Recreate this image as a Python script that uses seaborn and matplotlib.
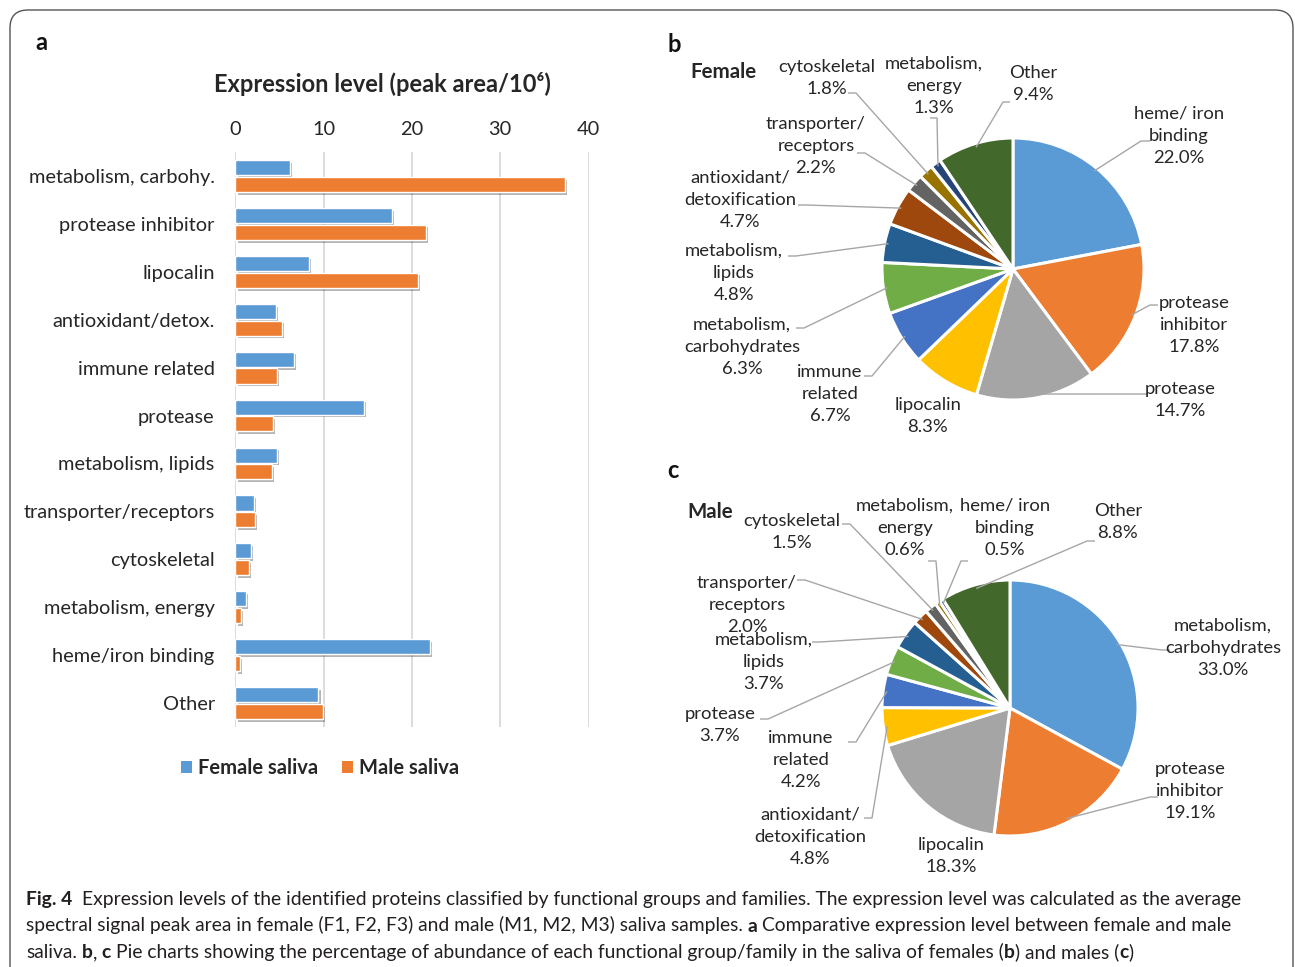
import numpy as np
import pandas as pd
import seaborn as sns
import matplotlib
matplotlib.use("Agg")
import matplotlib.pyplot as plt
from matplotlib.patches import FancyBboxPatch, Patch
import matplotlib.patheffects as pe

# ---------------- data ----------------
categories = ["metabolism, carbohy.", "protease inhibitor", "lipocalin", "antioxidant/detox.",
              "immune related", "protease", "metabolism, lipids", "transporter/receptors",
              "cytoskeletal", "metabolism, energy", "heme/iron binding", "Other"]
female_level = [6.2, 17.7, 8.3, 4.6, 6.6, 14.6, 4.7, 2.1, 1.7, 1.2, 22.0, 9.4]
male_level = [37.3, 21.6, 20.7, 5.3, 4.7, 4.2, 4.1, 2.2, 1.5, 0.6, 0.5, 9.9]
series_names = ["Female saliva", "Male saliva"]
x_ticks = [0, 10, 20, 30, 40]

female_groups = ["heme/ iron\nbinding", "protease\ninhibitor", "protease", "lipocalin",
                 "immune\nrelated", "metabolism,\ncarbohydrates", "metabolism,\nlipids",
                 "antioxidant/\ndetoxification", "transporter/\nreceptors", "cytoskeletal",
                 "metabolism,\nenergy", "Other"]
female_pct = [22.0, 17.8, 14.7, 8.3, 6.7, 6.3, 4.8, 4.7, 2.2, 1.8, 1.3, 9.4]

male_groups = ["metabolism,\ncarbohydrates", "protease\ninhibitor", "lipocalin",
               "antioxidant/\ndetoxification", "immune\nrelated", "protease",
               "metabolism,\nlipids", "transporter/\nreceptors", "cytoskeletal",
               "metabolism,\nenergy", "heme/ iron\nbinding", "Other"]
male_pct = [33.0, 19.1, 18.3, 4.8, 4.2, 3.7, 3.7, 2.0, 1.5, 0.6, 0.5, 8.8]

# ---------------- style ----------------
W, H = 1295, 967
sns.set_theme(style="white")
plt.rcParams["font.family"] = ["Lato", "DejaVu Sans"]
TXT = "#262626"
BAR_COLORS = ["#5B9BD5", "#ED7D31"]
SLICE_COLORS = ["#5B9BD5", "#ED7D31", "#A5A5A5", "#FFC000", "#4472C4", "#70AD47",
                "#255E91", "#9E480E", "#636363", "#997300", "#264478", "#43682B"]
LEADER = "#A6A6A6"

fig = plt.figure(figsize=(W / 100, H / 100), dpi=100)
fig.patch.set_facecolor("white")


def fx(x):
    return x / W


def fy(y):
    return 1 - y / H


# full-figure canvas in pixel units (y up) for pies, labels and frame
canvas = fig.add_axes([0, 0, 1, 1])
canvas.set_facecolor("none")

frame = FancyBboxPatch((10, -40), 1283, H - 10 + 40,
                       boxstyle="round,pad=0,rounding_size=18",
                       fc="none", ec="#555555", lw=1.0)
canvas.add_patch(frame)

# ---------------- panel a: bar chart ----------------
df = pd.DataFrame({
    "category": categories * 2,
    "sample": [series_names[0]] * len(categories) + [series_names[1]] * len(categories),
    "level": female_level + male_level,
})

ax = fig.add_axes([fx(235.5), fy(727), fx(588.5) - fx(235.5), fy(152) - fy(727)])
sns.barplot(data=df, y="category", x="level", hue="sample", order=categories,
            hue_order=series_names, palette=BAR_COLORS, orient="h", width=0.7,
            gap=0.1, saturation=1, ax=ax, errorbar=None)
ax.legend_.remove()
for p in ax.patches:
    p.set_path_effects([pe.SimplePatchShadow(offset=(1.5, -2.0), shadow_rgbFace="#444444", alpha=0.4),
                        pe.Normal()])
ax.set_xlim(0, 40)
ax.set_xticks(x_ticks)
ax.xaxis.tick_top()
ax.tick_params(axis="x", length=0, pad=10, labelsize=14.4, labelcolor=TXT)
ax.tick_params(axis="y", length=0, pad=15, labelsize=14.4, labelcolor=TXT)
ax.set_xlabel("")
ax.set_ylabel("")
ax.grid(axis="x", color="#D9D9D9", lw=1.3)
ax.set_axisbelow(True)
for s in ax.spines.values():
    s.set_visible(False)

fig.text(fx(382), fy(84), "Expression level (peak area/10⁶)", ha="center", va="center",
         fontsize=17, fontweight="bold", color=TXT)

handles = [Patch(facecolor=c, edgecolor="none") for c in BAR_COLORS]
fig.legend(handles, series_names, loc="center", bbox_to_anchor=(fx(320), fy(768)), ncol=2,
           frameon=False, handlelength=0.55, handleheight=0.55, handletextpad=0.3,
           columnspacing=1.2, prop={"weight": "bold", "size": 14.5})

# ---------------- panels b, c: pies ----------------
def draw_pie(center, radius, values, names, layout):
    cx, cy = center[0], H - center[1]
    wedges, _ = canvas.pie(values, colors=SLICE_COLORS, startangle=90, counterclock=False,
                           center=(cx, cy), radius=radius, frame=True,
                           wedgeprops=dict(edgecolor="white", linewidth=2.2))
    for w, name, val, (tx, ty, elbow) in zip(wedges, names, values, layout):
        canvas.text(tx, H - ty, f"{name}\n{val:.1f}%", ha="center", va="center",
                    fontsize=13.3, color=TXT, linespacing=1.47)
        if elbow is None:
            continue
        mid = np.deg2rad((w.theta1 + w.theta2) / 2)
        ax_pt = (cx + radius * 0.97 * np.cos(mid), cy + radius * 0.97 * np.sin(mid))
        xs = [e[0] for e in elbow] + [ax_pt[0]]
        ys = [H - e[1] for e in elbow] + [ax_pt[1]]
        canvas.plot(xs, ys, color=LEADER, lw=1.0, solid_capstyle="butt")


female_layout = [
    (1179, 136, [(1150, 141), (1141, 141)]),
    (1194, 325, [(1158, 305), (1150, 305)]),
    (1180, 400, [(1148, 394), (1140, 394)]),
    (928, 416, None),
    (830, 394, [(864, 376), (872, 376)]),
    (742, 347, [(796, 328), (804, 328)]),
    (734, 273, [(788, 256), (796, 256)]),
    (740, 200, [(798, 205), (806, 205)]),
    (816, 146, [(857, 153), (865, 153)]),
    (827, 78, [(848, 93), (856, 93)]),
    (934, 86, [(930, 118), (937, 118)]),
    (1033, 84, [(1010, 102), (1003, 102)]),
]
male_layout = [
    (1223, 648, [(1170, 650), (1162, 650)]),
    (1190, 791, [(1158, 797), (1150, 797)]),
    (951, 856, None),
    (810, 837, [(864, 818), (872, 818)]),
    (801, 760, [(848, 742), (856, 742)]),
    (720, 725, [(760, 719), (768, 719)]),
    (764, 662, [(812, 642), (820, 642)]),
    (747, 605, [(797, 580), (805, 580)]),
    (792, 532, [(842, 524), (850, 524)]),
    (905, 528, [(928, 561), (936, 561)]),
    (1005, 528, [(968, 561), (961, 561)]),
    (1118, 522, [(1095, 541), (1087, 541)]),
]

draw_pie((1013, 269), 131, female_pct, female_groups, female_layout)
draw_pie((1010, 708), 128, male_pct, male_groups, male_layout)

canvas.set_xlim(0, W)
canvas.set_ylim(0, H)
canvas.set_aspect("equal")
canvas.axis("off")

fig.text(fx(723), fy(72), "Female", ha="center", va="center", fontsize=14.8,
         fontweight="bold", color=TXT)
fig.text(fx(710), fy(512), "Male", ha="center", va="center", fontsize=14.8,
         fontweight="bold", color=TXT)

# panel letters
for letter, x, y in [("a", 41, 42), ("b", 674, 45), ("c", 673, 471)]:
    fig.text(fx(x), fy(y), letter, ha="center", va="center", fontsize=17,
             fontweight="bold", color="#111111")

# ---------------- caption with mixed weights ----------------
CAP_SIZE = 13.9
CAP_COLOR = "#231F20"
renderer = fig.canvas.get_renderer()


def text_width(s, bold):
    t = fig.text(0, 0, s, fontsize=CAP_SIZE, fontweight="bold" if bold else "normal")
    w = t.get_window_extent(renderer).width
    t.remove()
    return w


space_w = {b: text_width("a a", b) - text_width("aa", b) for b in (False, True)}


def draw_runs(x, y, runs):
    cx = x
    for s, bold in runs:
        lead = len(s) - len(s.lstrip(" "))
        trail = len(s) - len(s.rstrip(" "))
        core = s.strip(" ")
        cx += lead * space_w[bold]
        if core:
            t = fig.text(fx(cx), fy(y), core, fontsize=CAP_SIZE, color=CAP_COLOR,
                         fontweight="bold" if bold else "normal", ha="left", va="baseline")
            cx += t.get_window_extent(renderer).width
        cx += trail * space_w[bold]


caption = [
    [("Fig. 4", True),
     ("  Expression levels of the identified proteins classified by functional groups and families. "
      "The expression level was calculated as the average", False)],
    [("spectral signal peak area in female (F1, F2, F3) and male (M1, M2, M3) saliva samples. ", False),
     ("a", True), (" Comparative expression level between female and male", False)],
    [("saliva. ", False), ("b", True), (", ", False), ("c", True),
     (" Pie charts showing the percentage of abundance of each functional group/family in the saliva of females (", False),
     ("b", True), (") and males (", False), ("c", True), (")", False)],
]
for i, runs in enumerate(caption):
    draw_runs(26, 905 + i * 26.5, runs)

fig.savefig("out.png", dpi=100, facecolor="white")
